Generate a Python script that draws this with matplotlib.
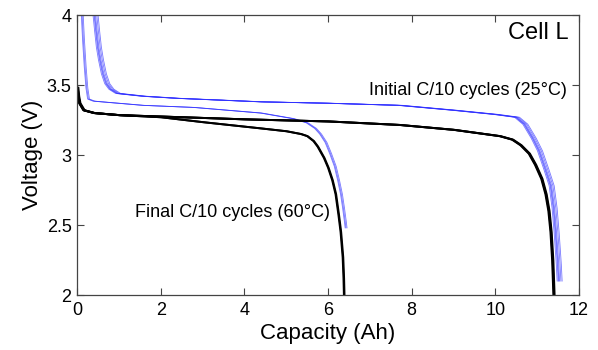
import matplotlib
matplotlib.use('Agg')
import matplotlib.pyplot as plt

plt.rcParams['font.family'] = ['Liberation Sans', 'DejaVu Sans']

# initial C/10 cycles, 25°C
init_dis_cap = [0.0, 0.02, 0.05, 0.15, 0.4, 1.0, 2.0, 4.0, 6.0, 7.7, 9.0, 10.1, 10.4, 10.6,
                10.8, 10.95, 11.1, 11.2, 11.27, 11.32, 11.36, 11.39]
init_dis_v = [3.48, 3.42, 3.37, 3.32, 3.30, 3.285, 3.275, 3.255, 3.24, 3.215, 3.18, 3.135, 3.11, 3.07,
              3.01, 2.93, 2.83, 2.72, 2.60, 2.45, 2.25, 2.0]
init_chg_cap = [0.42, 0.46, 0.5, 0.55, 0.62, 0.7, 0.8, 0.96, 1.58, 2.4, 4.4, 6.0, 7.7, 9.0, 10.0, 10.5,
                10.7, 10.9, 11.05, 11.2, 11.33, 11.4, 11.45, 11.5, 11.52]
init_chg_v = [4.0, 3.88, 3.77, 3.68, 3.58, 3.51, 3.47, 3.44, 3.42, 3.405, 3.38, 3.37, 3.355, 3.32, 3.29,
              3.27, 3.22, 3.12, 3.03, 2.90, 2.78, 2.62, 2.44, 2.22, 2.10]
init_dis_shift = [0.0, 0.015, 0.03]
init_chg_shift = [-0.04, -0.015, 0.0, 0.02, 0.05, 0.08]

# final C/10 cycles, 60°C
fin_dis_cap = [0.0, 0.02, 0.05, 0.15, 0.4, 1.0, 2.0, 3.0, 4.4, 5.0, 5.35, 5.5, 5.65, 5.75, 5.9, 6.0,
               6.1, 6.18, 6.25, 6.3, 6.35, 6.37, 6.38]
fin_dis_v = [3.48, 3.42, 3.37, 3.32, 3.30, 3.285, 3.27, 3.235, 3.19, 3.17, 3.15, 3.135, 3.10, 3.06, 2.98,
             2.91, 2.82, 2.72, 2.57, 2.45, 2.27, 2.12, 2.0]
fin_chg_cap = [0.12, 0.15, 0.19, 0.23, 0.27, 0.4, 0.79, 1.58, 2.8, 4.4, 5.17, 5.5, 5.7, 5.82, 5.95,
               6.06, 6.17, 6.25, 6.32, 6.37, 6.41, 6.43]
fin_chg_v = [4.0, 3.82, 3.63, 3.48, 3.40, 3.385, 3.375, 3.355, 3.34, 3.30, 3.26, 3.23, 3.19, 3.15, 3.09,
             3.01, 2.92, 2.82, 2.72, 2.62, 2.53, 2.48]
fin_dis_shift = [0.0, 0.015]
fin_chg_shift = [-0.02, 0.0, 0.025]

fig, ax = plt.subplots(figsize=(5.98, 3.5), dpi=100)
fig.subplots_adjust(left=0.129, right=0.968, bottom=0.157, top=0.957)

for s in init_chg_shift:
    ax.plot([c + s for c in init_chg_cap], init_chg_v, color='#3030ff', lw=0.6, alpha=0.65)
for s in fin_chg_shift:
    ax.plot([c + s for c in fin_chg_cap], fin_chg_v, color='#3030ff', lw=0.6, alpha=0.65)
for s in init_dis_shift:
    ax.plot([c + s for c in init_dis_cap], init_dis_v, color='black', lw=1.4)
for s in fin_dis_shift:
    ax.plot([c + s for c in fin_dis_cap], fin_dis_v, color='black', lw=1.4)

ax.set_xlim(0, 12)
ax.set_ylim(2, 4)
ax.set_xticks([0, 2, 4, 6, 8, 10, 12])
ax.set_yticks([2, 2.5, 3, 3.5, 4])
ax.set_yticklabels(['2', '2.5', '3', '3.5', '4'])
ax.tick_params(direction='in', top=True, right=True, length=5, width=0.8,
               labelsize=13, color='#444444')
ax.tick_params(axis='x', pad=5)
ax.tick_params(axis='y', pad=4)
for sp in ax.spines.values():
    sp.set_color('#444444')
    sp.set_linewidth(0.9)

ax.set_xlabel('Capacity (Ah)', fontsize=16, labelpad=3)
ax.set_ylabel('Voltage (V)', fontsize=16, labelpad=3)

ax.text(11.76, 3.87, 'Cell L', fontsize=17, ha='right', va='center')
ax.text(6.97, 3.46, 'Initial C/10 cycles (25°C)', fontsize=13, ha='left', va='center')
ax.text(1.39, 2.59, 'Final C/10 cycles (60°C)', fontsize=13, ha='left', va='center')

fig.savefig('out.png', dpi=100)
